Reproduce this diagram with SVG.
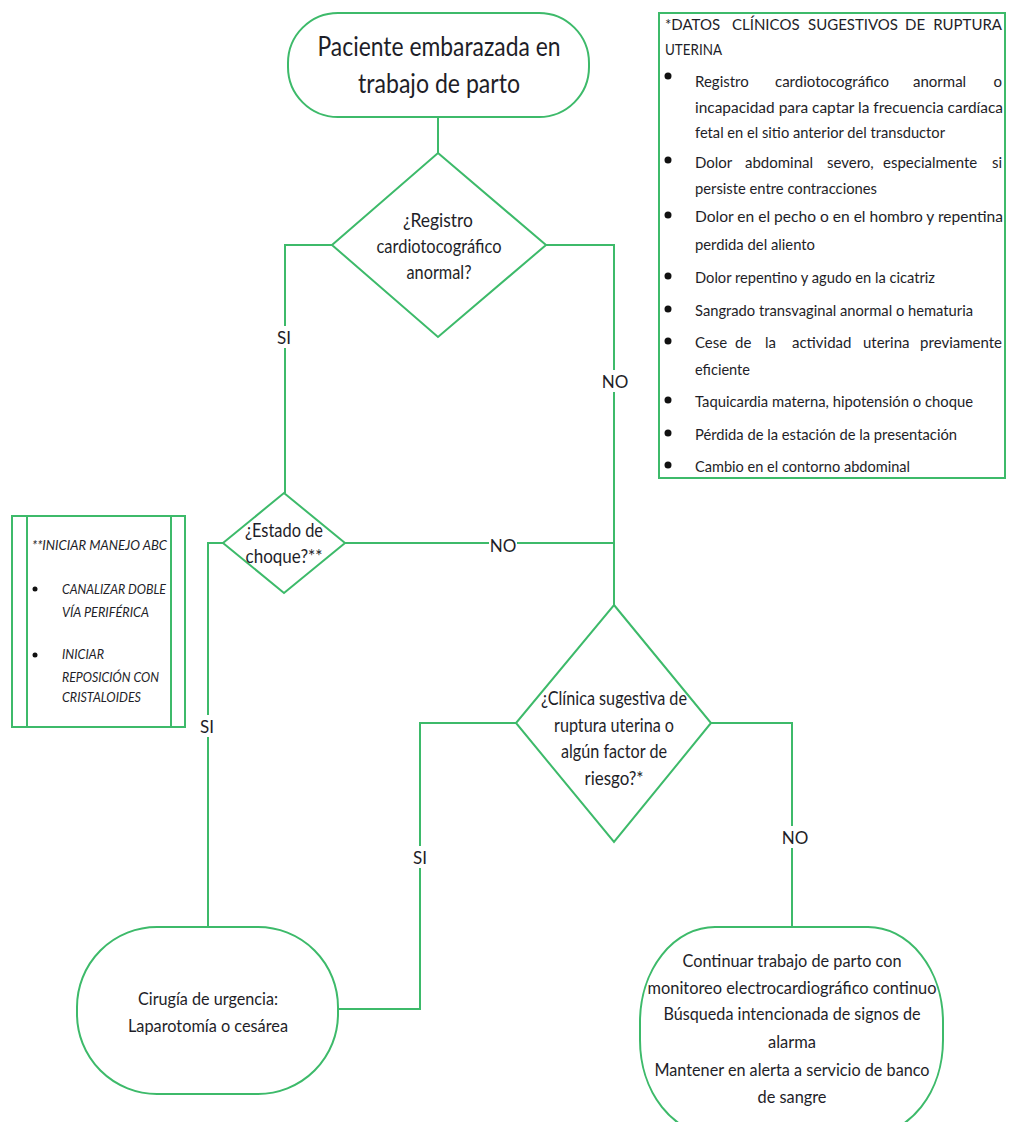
<svg xmlns="http://www.w3.org/2000/svg" width="1010" height="1122" viewBox="0 0 1010 1122">
<style>
.shape{fill:#fff;stroke:#3dba6a;stroke-width:2}
.ln{fill:none;stroke:#3dba6a;stroke-width:2}
text{font-family:Lato,"Liberation Sans",sans-serif;fill:#1e1e28}
.c{text-anchor:middle}
.e{text-anchor:end}
.big{font-size:27px}
.d{font-size:19px}
.t{font-size:17px}
.n{font-size:15px}
.it{font-size:14px;font-style:italic}
.lbl{font-size:17px;text-anchor:middle}
.bg{fill:#fff;stroke:none}
</style>
<rect width="1010" height="1122" fill="#fff"/>

<g id="connectors">
<path class="ln" d="M438,117 V153"/>
<path class="ln" d="M332,245 H285 V493"/>
<path class="ln" d="M546,245 H614 V605"/>
<path class="ln" d="M223,543 H208 V927"/>
<path class="ln" d="M345,543 H614"/>
<path class="ln" d="M516,723 H420 V1009 H338"/>
<path class="ln" d="M711,723 H792 V927"/>
<g id="labels">
<rect class="bg" x="274" y="326" width="20" height="22"/><text class="lbl" x="284" y="344">SI</text>
<rect class="bg" x="602" y="370" width="26" height="22"/><text class="lbl" x="615" y="388">NO</text>
<rect class="bg" x="489" y="535" width="28" height="20"/><text class="lbl" x="503" y="552">NO</text>
<rect class="bg" x="198" y="715" width="20" height="22"/><text class="lbl" x="207" y="733">SI</text>
<rect class="bg" x="410" y="846" width="20" height="22"/><text class="lbl" x="420" y="864">SI</text>
<rect class="bg" x="782" y="826" width="26" height="22"/><text class="lbl" x="795" y="844">NO</text>
</g>
</g>

<g id="start">
<rect class="shape" x="288" y="13" width="301" height="104" rx="50" ry="50"/>
<text class="c big" x="439" y="56" textLength="243" lengthAdjust="spacingAndGlyphs">Paciente embarazada en</text>
<text class="c big" x="439" y="93" textLength="162" lengthAdjust="spacingAndGlyphs">trabajo de parto</text>
</g>

<g id="d1">
<polygon class="shape" points="438,153 546,245 438,337 332,245"/>
<text class="c d" x="438" y="227" textLength="70" lengthAdjust="spacingAndGlyphs">¿Registro</text>
<text class="c d" x="439" y="253" textLength="125" lengthAdjust="spacingAndGlyphs">cardiotocográfico</text>
<text class="c d" x="439" y="279" textLength="65" lengthAdjust="spacingAndGlyphs">anormal?</text>
</g>

<g id="d2">
<polygon class="shape" points="284,493 345,543 284,593 223,543"/>
<text class="c d" x="284" y="537" textLength="78" lengthAdjust="spacingAndGlyphs">¿Estado de</text>
<text class="c d" x="284" y="563" textLength="77" lengthAdjust="spacingAndGlyphs">choque?**</text>
</g>

<g id="d3">
<polygon class="shape" points="614,605 711,723 614,842 516,723"/>
<text class="c d" x="614" y="705" textLength="146" lengthAdjust="spacingAndGlyphs">¿Clínica sugestiva de</text>
<text class="c d" x="614" y="732" textLength="120" lengthAdjust="spacingAndGlyphs">ruptura uterina o</text>
<text class="c d" x="614" y="758" textLength="106" lengthAdjust="spacingAndGlyphs">algún factor de</text>
<text class="c d" x="614" y="785" textLength="59" lengthAdjust="spacingAndGlyphs">riesgo?*</text>
</g>

<g id="surgery">
<rect class="shape" x="77" y="927" width="261" height="167" rx="80" ry="80"/>
<text class="c t" x="208" y="1005" textLength="140" lengthAdjust="spacingAndGlyphs">Cirugía de urgencia:</text>
<text class="c t" x="208" y="1032" textLength="160" lengthAdjust="spacingAndGlyphs">Laparotomía o cesárea</text>
</g>

<g id="continue">
<rect class="shape" x="640" y="927" width="303" height="208" rx="75" ry="95"/>
<text class="c t" x="792" y="967" textLength="219" lengthAdjust="spacingAndGlyphs">Continuar trabajo de parto con</text>
<text class="c t" x="792" y="994" textLength="289" lengthAdjust="spacingAndGlyphs">monitoreo electrocardiográfico continuo</text>
<text class="c t" x="792" y="1020" textLength="257" lengthAdjust="spacingAndGlyphs">Búsqueda intencionada de signos de</text>
<text class="c t" x="792" y="1048" textLength="48" lengthAdjust="spacingAndGlyphs">alarma</text>
<text class="c t" x="792" y="1076" textLength="275" lengthAdjust="spacingAndGlyphs">Mantener en alerta a servicio de banco</text>
<text class="c t" x="792" y="1103" textLength="69" lengthAdjust="spacingAndGlyphs">de sangre</text>
</g>

<g id="note-rupture">
<rect class="shape" x="659" y="13" width="346" height="465"/>
<text class="n" y="30"><tspan x="665">*DATOS</tspan><tspan x="732">CLÍNICOS</tspan><tspan x="808">SUGESTIVOS</tspan><tspan x="905">DE</tspan><tspan class="e" x="1002">RUPTURA</tspan></text>
<text class="n" x="665" y="55" textLength="57" lengthAdjust="spacingAndGlyphs">UTERINA</text>
<g fill="#111">
<circle cx="668" cy="76" r="3.5"/><circle cx="668" cy="160" r="3.5"/><circle cx="668" cy="215" r="3.5"/>
<circle cx="668" cy="276" r="3.5"/><circle cx="668" cy="309" r="3.5"/><circle cx="668" cy="341" r="3.5"/>
<circle cx="668" cy="400" r="3.5"/><circle cx="668" cy="433" r="3.5"/><circle cx="668" cy="465" r="3.5"/>
</g>
<text class="n" y="87"><tspan x="695">Registro</tspan><tspan x="775">cardiotocográfico</tspan><tspan x="913">anormal</tspan><tspan class="e" x="1002">o</tspan></text>
<text class="n" x="695" y="113" textLength="308" lengthAdjust="spacingAndGlyphs">incapacidad para captar la frecuencia cardíaca</text>
<text class="n" x="695" y="138" textLength="250" lengthAdjust="spacingAndGlyphs">fetal en el sitio anterior del transductor</text>
<text class="n" y="168"><tspan x="695">Dolor</tspan><tspan x="745">abdominal</tspan><tspan x="827">severo,</tspan><tspan x="883">especialmente</tspan><tspan class="e" x="1002">si</tspan></text>
<text class="n" x="695" y="194" textLength="182" lengthAdjust="spacingAndGlyphs">persiste entre contracciones</text>
<text class="n" x="695" y="222" textLength="308" lengthAdjust="spacingAndGlyphs">Dolor en el pecho o en el hombro y repentina</text>
<text class="n" x="695" y="250" textLength="120" lengthAdjust="spacingAndGlyphs">perdida del aliento</text>
<text class="n" x="695" y="283" textLength="240" lengthAdjust="spacingAndGlyphs">Dolor repentino y agudo en la cicatriz</text>
<text class="n" x="695" y="316" textLength="278" lengthAdjust="spacingAndGlyphs">Sangrado transvaginal anormal o hematuria</text>
<text class="n" y="348"><tspan x="695">Cese</tspan><tspan x="735">de</tspan><tspan x="765">la</tspan><tspan x="792">actividad</tspan><tspan x="863">uterina</tspan><tspan class="e" x="1002">previamente</tspan></text>
<text class="n" x="695" y="375" textLength="55" lengthAdjust="spacingAndGlyphs">eficiente</text>
<text class="n" x="695" y="407" textLength="278" lengthAdjust="spacingAndGlyphs">Taquicardia materna, hipotensión o choque</text>
<text class="n" x="695" y="440" textLength="262" lengthAdjust="spacingAndGlyphs">Pérdida de la estación de la presentación</text>
<text class="n" x="695" y="472" textLength="215" lengthAdjust="spacingAndGlyphs">Cambio en el contorno abdominal</text>
</g>

<g id="note-abc">
<rect class="shape" x="12" y="516" width="173" height="211"/>
<path class="ln" d="M27,516 V727 M171,516 V727"/>
<text class="it" x="32" y="550" textLength="135" lengthAdjust="spacingAndGlyphs">**INICIAR MANEJO ABC</text>
<circle cx="35" cy="589" r="2.5" fill="#111"/>
<circle cx="35" cy="655" r="2.5" fill="#111"/>
<text class="it" x="62" y="594" textLength="104" lengthAdjust="spacingAndGlyphs">CANALIZAR DOBLE</text>
<text class="it" x="62" y="617" textLength="87" lengthAdjust="spacingAndGlyphs">VÍA PERIFÉRICA</text>
<text class="it" x="62" y="659" textLength="42" lengthAdjust="spacingAndGlyphs">INICIAR</text>
<text class="it" x="62" y="682" textLength="97" lengthAdjust="spacingAndGlyphs">REPOSICIÓN CON</text>
<text class="it" x="62" y="702" textLength="79" lengthAdjust="spacingAndGlyphs">CRISTALOIDES</text>
</g>
</svg>
